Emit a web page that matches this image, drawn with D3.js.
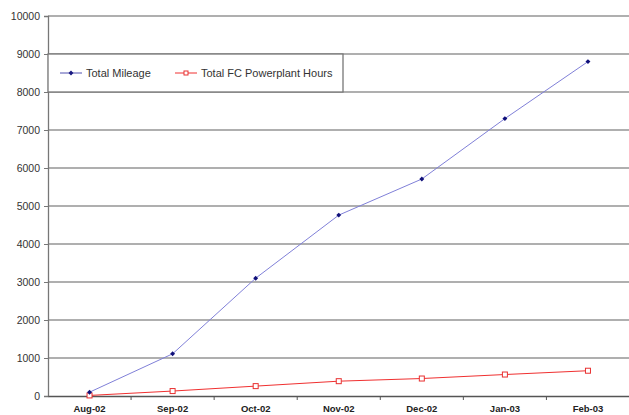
<!DOCTYPE html>
<html><head><meta charset="utf-8">
<script src="https://cdn.jsdelivr.net/npm/d3@7"></script>
<style>body{margin:0;background:#fff}svg{display:block}</style>
</head><body>
<svg id="c" width="629" height="415"></svg>
<script>
const categories = ["Aug-02","Sep-02","Oct-02","Nov-02","Dec-02","Jan-03","Feb-03"];
const mileage = [100, 1110, 3100, 4760, 5710, 7300, 8800];
const fcHours = [15, 130, 260, 390, 460, 565, 665];
const yTicks = [0,1000,2000,3000,4000,5000,6000,7000,8000,9000,10000];
const seriesNames = ["Total Mileage","Total FC Powerplant Hours"];

const svg = d3.select("#c");
const L = 48, R = 629.5, T = 16, B = 396;
const x = d3.scaleBand().domain(categories).range([L, R]);
const y = d3.scaleLinear().domain([0, 10000]).range([B, T]);

// gridlines
svg.append("g").selectAll("line").data(yTicks.filter(d => d > 0)).join("line")
  .attr("x1", L).attr("x2", 629).attr("y1", d => y(d)).attr("y2", d => y(d))
  .attr("stroke", "#959595").attr("stroke-width", 1.3);

// y axis
const ya = svg.append("g").attr("transform", `translate(${L},0)`)
  .call(d3.axisLeft(y).tickValues(yTicks).tickSize(4).tickPadding(4).tickFormat(d3.format("d")));
ya.select(".domain").attr("stroke", "#777").attr("stroke-width", 1.3);
ya.selectAll(".tick line").attr("stroke", "#777");
ya.selectAll("text").attr("font-family", "Liberation Sans, Arial, sans-serif").attr("font-size", 10.5).attr("fill", "#333");

// x axis
const xa = svg.append("g").attr("transform", `translate(0,${B})`)
  .call(d3.axisBottom(x).tickSize(0).tickPadding(9));
xa.select(".domain").attr("stroke", "#555").attr("stroke-width", 1.3);
xa.selectAll("text").attr("font-family", "Liberation Sans Narrow, Liberation Sans, Arial, sans-serif")
  .attr("font-weight", "bold").attr("font-size", 9.5).attr("fill", "#222");
// boundary ticks between categories
svg.append("g").selectAll("line").data(categories.slice(1)).join("line")
  .attr("x1", d => x(d)).attr("x2", d => x(d)).attr("y1", B).attr("y2", B + 4)
  .attr("stroke", "#555");

const cx = d => x(d) + x.bandwidth() / 2;
const line = d3.line().x((d, i) => cx(categories[i])).y(d => y(d));

// FC series
svg.append("path").datum(fcHours).attr("d", line).attr("fill", "none").attr("stroke", "#f03030").attr("stroke-width", 1);
svg.append("g").selectAll("rect").data(fcHours).join("rect")
  .attr("x", (d, i) => cx(categories[i]) - 2.5).attr("y", d => y(d) - 2.5)
  .attr("width", 5).attr("height", 5).attr("fill", "#fff").attr("stroke", "#e83030").attr("stroke-width", 1);

// Mileage series
svg.append("path").datum(mileage).attr("d", line).attr("fill", "none").attr("stroke", "#8080d8").attr("stroke-width", 1);
const diamond = d3.symbol().type(d3.symbolSquare).size(12);
svg.append("g").selectAll("path").data(mileage).join("path")
  .attr("d", diamond).attr("transform", (d, i) => `translate(${cx(categories[i])},${y(d)}) rotate(45)`)
  .attr("fill", "#10107a");

// legend
const lg = svg.append("g");
lg.append("rect").attr("x", L).attr("y", y(9000)).attr("width", 343 - L).attr("height", y(8000) - y(9000))
  .attr("fill", "#fff").attr("stroke", "#777").attr("stroke-width", 1.3);
const items = [
  {name: seriesNames[0], x0: 60, color: "#1a1a80", lineColor: "#5050b0", type: "d"},
  {name: seriesNames[1], x0: 175, color: "#e83030", lineColor: "#f03030", type: "s"}
];
const ly = (y(9000) + y(8000)) / 2;
items.forEach(it => {
  lg.append("line").attr("x1", it.x0).attr("x2", it.x0 + 22).attr("y1", ly).attr("y2", ly).attr("stroke", it.lineColor);
  if (it.type === "d") lg.append("path").attr("d", diamond).attr("transform", `translate(${it.x0 + 11},${ly}) rotate(45)`).attr("fill", it.color);
  else lg.append("rect").attr("x", it.x0 + 9).attr("y", ly - 2).attr("width", 4).attr("height", 4).attr("fill", "#fff").attr("stroke", it.color);
  lg.append("text").attr("x", it.x0 + 26).attr("y", ly + 4).text(it.name)
    .attr("font-family", "Liberation Sans, Arial, sans-serif").attr("font-size", 11).attr("fill", "#333");
});
</script>
</body></html>
